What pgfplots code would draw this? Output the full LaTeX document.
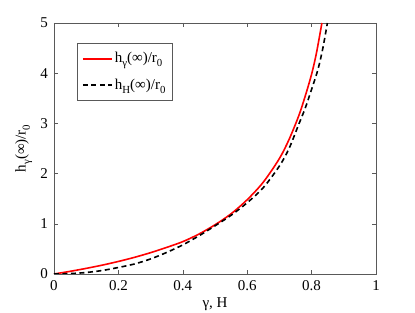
\documentclass[border=0pt]{standalone}
\usepackage{fontspec}
\setmainfont{Liberation Serif}
\usepackage{graphicx}
\usepackage{pgfplots}
\pgfplotsset{compat=1.18}
\newcommand\sub[1]{\raisebox{-0.6ex}{\scalebox{0.72}{#1}}}
\begin{document}
\fontsize{15}{17}\selectfont
\begin{tikzpicture}
\begin{axis}[
  scale only axis,
  width=322pt, height=251pt,
  xmin=0, xmax=1, ymin=0, ymax=5,
  xtick={0,0.2,0.4,0.6,0.8,1},
  xticklabels={0,0.2,0.4,0.6,0.8,1},
  ytick={0,1,2,3,4,5},
  tick align=inside,
  major tick length=4pt,
  axis line style={black!65},
  every tick/.style={black!65},
  /pgf/number format/assume math mode=true,
  xticklabel style={yshift=-1pt},
  yticklabel style={xshift=-1pt},
  xlabel={γ, H},
  ylabel={h\sub{γ}(∞)/r\sub{0}},
  xlabel style={yshift=3pt},
  ylabel style={yshift=-2pt},
  legend style={at={(0.071,0.92)}, anchor=north west, draw=black!65,
    inner xsep=5pt, inner ysep=7pt, row sep=10pt, font=\fontsize{15}{17}\selectfont},
  legend cell align=left,
  legend image code/.code={\draw[#1, line width=1.8pt] (0pt,0pt) -- (29pt,0pt);},
]
\addplot[red, line width=1.6pt, smooth] coordinates {
(0,0) (0.05,0.053) (0.1,0.112) (0.15,0.177) (0.2,0.25) (0.25,0.332) (0.3,0.425)
(0.35,0.53) (0.4,0.645) (0.45,0.795) (0.5,0.98) (0.55,1.2) (0.6,1.48)
(0.65,1.83) (0.7,2.3) (0.73,2.68) (0.76,3.15) (0.78,3.54) (0.8,3.98)
(0.815,4.4) (0.832,5.0)
};
\addlegendentry{h\sub{γ}(∞)/r\sub{0}}
\addplot[black, line width=1.6pt, dash pattern=on 5pt off 3.5pt, smooth] coordinates {
(0,0) (0.05,0.008) (0.1,0.03) (0.15,0.07) (0.2,0.13) (0.25,0.2) (0.3,0.3)
(0.35,0.43) (0.4,0.58) (0.45,0.76) (0.5,0.96) (0.55,1.17) (0.6,1.42)
(0.65,1.72) (0.7,2.15) (0.73,2.5) (0.76,2.98) (0.78,3.3) (0.8,3.68)
(0.82,4.08) (0.835,4.5) (0.849,5.0)
};
\addlegendentry{h\sub{H}(∞)/r\sub{0}}
\end{axis}
\pgfresetboundingbox
\path ([shift={(-54pt,-39pt)}]current axis.south west) rectangle ([shift={(39pt,23pt)}]current axis.north east);
\end{tikzpicture}
\end{document}
